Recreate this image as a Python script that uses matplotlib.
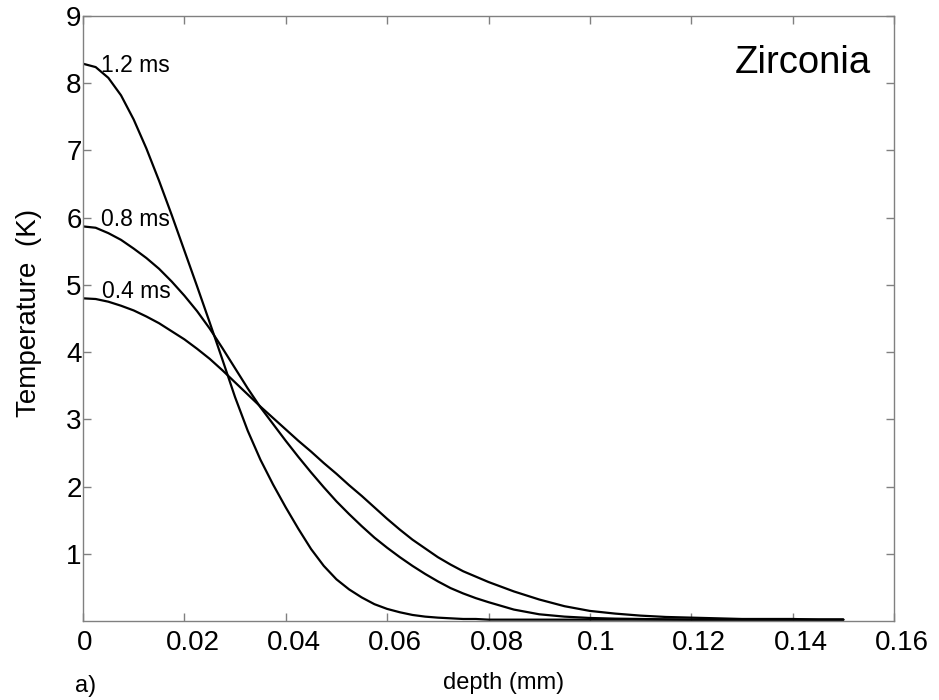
import matplotlib
matplotlib.use("Agg")
import matplotlib.pyplot as plt
from matplotlib.transforms import ScaledTranslation

plt.rcParams['font.family'] = ['Liberation Sans', 'DejaVu Sans']

# depth (mm)
depth = [0.0000, 0.0025, 0.0050, 0.0075, 0.0100, 0.0125, 0.0150, 0.0175,
         0.0200, 0.0225, 0.0250, 0.0275, 0.0300, 0.0325, 0.0350, 0.0375,
         0.0400, 0.0425, 0.0450, 0.0475, 0.0500, 0.0525, 0.0550, 0.0575,
         0.0600, 0.0625, 0.0650, 0.0675, 0.0700, 0.0725, 0.0750, 0.0775,
         0.0800, 0.0850, 0.0900, 0.0950, 0.1000, 0.1050, 0.1100, 0.1150,
         0.1200, 0.1250, 0.1300, 0.1350, 0.1400, 0.1450, 0.1500]

# Temperature (K) for each pulse duration
t_1_2ms = [8.29, 8.24, 8.08, 7.82, 7.46, 7.03, 6.55, 6.04,
           5.51, 4.98, 4.44, 3.89, 3.33, 2.83, 2.40, 2.03,
           1.69, 1.37, 1.07, 0.82, 0.62, 0.47, 0.35, 0.25,
           0.18, 0.13, 0.09, 0.065, 0.05, 0.04, 0.03, 0.03,
           0.02, 0.02, 0.02, 0.02, 0.02, 0.02, 0.02, 0.02,
           0.02, 0.02, 0.02, 0.02, 0.02, 0.02, 0.02]
t_0_8ms = [5.87, 5.85, 5.77, 5.67, 5.54, 5.40, 5.24, 5.05,
           4.84, 4.61, 4.35, 4.06, 3.76, 3.46, 3.18, 2.93,
           2.68, 2.44, 2.21, 1.99, 1.78, 1.59, 1.41, 1.24,
           1.09, 0.95, 0.82, 0.70, 0.59, 0.49, 0.41, 0.34,
           0.28, 0.17, 0.10, 0.065, 0.045, 0.035, 0.03, 0.025,
           0.02, 0.02, 0.02, 0.02, 0.02, 0.02, 0.02]
t_0_4ms = [4.80, 4.79, 4.75, 4.69, 4.62, 4.53, 4.43, 4.31,
           4.19, 4.05, 3.90, 3.73, 3.55, 3.37, 3.19, 3.02,
           2.85, 2.68, 2.52, 2.35, 2.19, 2.02, 1.86, 1.69,
           1.52, 1.36, 1.21, 1.08, 0.95, 0.84, 0.74, 0.66,
           0.58, 0.44, 0.32, 0.22, 0.15, 0.11, 0.08, 0.06,
           0.05, 0.04, 0.03, 0.03, 0.03, 0.02, 0.02]

series_labels = ["1.2 ms", "0.8 ms", "0.4 ms"]
label_pos = [(0.0036, 8.17), (0.0035, 5.87), (0.0038, 4.80)]

xticks = [0, 0.02, 0.04, 0.06, 0.08, 0.1, 0.12, 0.14, 0.16]
xticklabels = ["0", "0.02", "0.04", "0.06", "0.08", "0.1", "0.12", "0.14", "0.16"]
yticks = [1, 2, 3, 4, 5, 6, 7, 8, 9]
yticklabels = ["1", "2", "3", "4", "5", "6", "7", "8", "9"]

fig = plt.figure(figsize=(9.39, 7.0), dpi=100)
ax = fig.add_axes([83/939, 79/700, 811/939, 605/700])

for ys in (t_1_2ms, t_0_8ms, t_0_4ms):
    ax.plot(depth, ys, color='black', lw=1.6, solid_joinstyle='round',
            solid_capstyle='round')

for lab, (lx, ly) in zip(series_labels, label_pos):
    ax.text(lx, ly, lab, fontsize=16.5, ha='left', va='baseline', color='black')

ax.set_xlim(0, 0.16)
ax.set_ylim(0, 9)
ax.set_xticks(xticks)
ax.set_xticklabels(xticklabels)
ax.set_yticks(yticks)
ax.set_yticklabels(yticklabels)

gray = '#808080'
for sp in ax.spines.values():
    sp.set_color(gray)
    sp.set_linewidth(1.0)
ax.tick_params(axis='both', direction='in', length=5.5, width=1.0, color=gray,
               labelsize=20, labelcolor='black', top=True, right=True)
ax.tick_params(axis='x', pad=6.5)
ax.tick_params(axis='y', pad=1.0)

# the original's x tick labels sit slightly right of their ticks
for lbl in ax.get_xticklabels():
    n = len(lbl.get_text())
    dx_pt = 1.5 if n == 1 else (4.5 if n == 3 else 5.8)
    lbl.set_transform(lbl.get_transform() + ScaledTranslation(dx_pt / 72, 0, fig.dpi_scale_trans))

ax.set_ylabel("Temperature  (K)", fontsize=20)
ax.yaxis.set_label_coords(-0.0506, 0.509)

ax.text((504 - 83) / 811, -0.1025, "depth (mm)", transform=ax.transAxes,
        fontsize=17, ha='center', va='center')
ax.text((75 - 83) / 811, -0.107, "a)", transform=ax.transAxes, fontsize=17,
        ha='left', va='center')
ax.text((871 - 83) / 811, (621 - 73.3) / 605, "Zirconia", transform=ax.transAxes,
        fontsize=27.5, ha='right', va='baseline')

fig.savefig("out.png", dpi=100, facecolor='white')
